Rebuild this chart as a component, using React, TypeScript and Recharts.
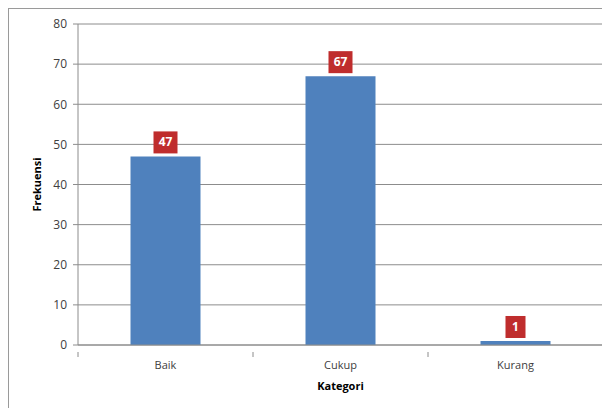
import { BarChart, Bar, XAxis, YAxis, CartesianGrid, LabelList, Label } from 'recharts';

const categories = ['Baik', 'Cukup', 'Kurang'];
const frekuensi = [47, 67, 1];
const yTicks = [0, 10, 20, 30, 40, 50, 60, 70, 80];

const data = categories.map((kategori, i) => ({ kategori, frekuensi: frekuensi[i] }));

const FONT = '"Open Sans", "DejaVu Sans", sans-serif';
const GRID = '#8c8c8c';

function ValueBox(props: any) {
  const { x, y, width, value } = props;
  const cx = x + width / 2;
  const w = String(value).length > 1 ? 24 : 20;
  const h = 22;
  return (
    <g>
      <rect x={cx - w / 2} y={y - h - 3} width={w} height={h} fill="#bf2d2d" />
      <text
        x={cx}
        y={y - 3 - h / 2 + 4}
        textAnchor="middle"
        fill="#ffffff"
        fontSize={12}
        fontWeight={700}
        fontFamily={FONT}
      >
        {value}
      </text>
    </g>
  );
}

function CategoryTick(props: any) {
  const { x, y, payload, index } = props;
  const half = 87.5;
  return (
    <g>
      <line x1={x - half} y1={y - 1} x2={x - half} y2={y + 4} stroke={GRID} />
      {index === categories.length - 1 && (
        <line x1={x + half} y1={y - 1} x2={x + half} y2={y + 4} stroke={GRID} />
      )}
      <text x={x} y={y + 16} textAnchor="middle" fill="#404040" fontSize={11} fontFamily={FONT}>
        {payload.value}
      </text>
    </g>
  );
}

export default function App() {
  return (
    <div style={{ width: 600, height: 410, border: '1px solid #9a9a9a', background: '#fff' }}>
      <BarChart
        width={600}
        height={410}
        data={data}
        margin={{ top: 15, right: 6, left: 0, bottom: 0 }}
        barCategoryGap="30%"
      >
        <CartesianGrid vertical={false} stroke={GRID} />
        <XAxis
          dataKey="kategori"
          height={74}
          stroke={GRID}
          tickLine={false}
          tick={<CategoryTick />}
          interval={0}
        >
          <Label
            value="Kategori"
            position="insideBottom"
            offset={29}
            fill="#000"
            fontSize={11}
            fontWeight={700}
            fontFamily={FONT}
          />
        </XAxis>
        <YAxis
          width={69}
          domain={[0, 80]}
          ticks={yTicks}
          stroke={GRID}
          tickSize={5}
          tickMargin={6}
          tick={{ fill: '#404040', fontSize: 12, fontFamily: FONT }}
          interval={0}
        >
          <Label
            value="Frekuensi"
            angle={-90}
            position="insideLeft"
            offset={28}
            fill="#000"
            fontSize={11}
            fontWeight={700}
            fontFamily={FONT}
            style={{ textAnchor: 'middle' }}
          />
        </YAxis>
        <Bar dataKey="frekuensi" fill="#4f81bd" isAnimationActive={false}>
          <LabelList dataKey="frekuensi" content={<ValueBox />} />
        </Bar>
      </BarChart>
    </div>
  );
}
